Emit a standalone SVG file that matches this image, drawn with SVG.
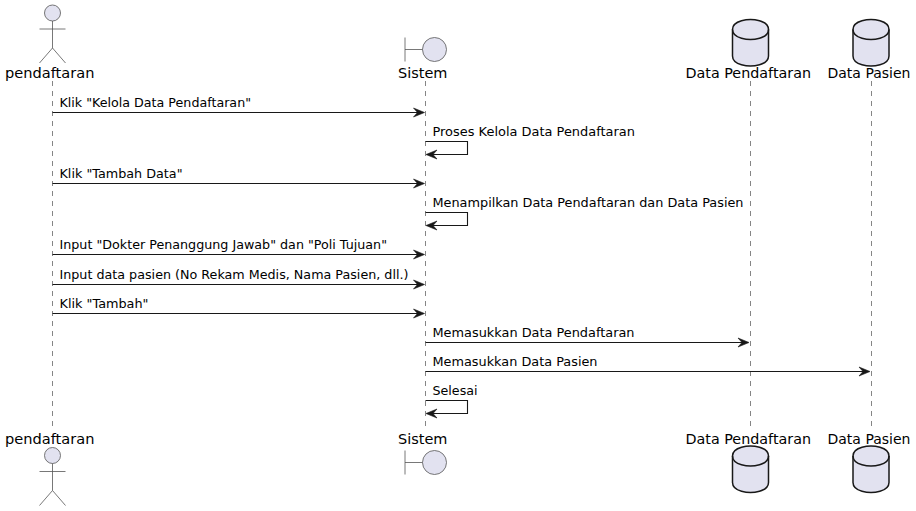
<svg xmlns="http://www.w3.org/2000/svg" width="916" height="511" viewBox="0 0 916 511">
<style>
text{font-family:"DejaVu Sans",sans-serif;fill:#000}
.n{font-size:14.500px}
.m{font-size:13px}
.life{stroke:#666;stroke-width:.8;stroke-dasharray:5,5;fill:none}
.ic{fill:#E2E2F0;stroke:#555;stroke-width:.8}
.icl{fill:none;stroke:#555;stroke-width:.8}
.db{fill:#E2E2F0;stroke:#181818;stroke-width:1.5}
.dbl{fill:none;stroke:#181818;stroke-width:1.5}
.a{stroke:#181818;stroke-width:1.1;fill:none}
.h{fill:#181818;stroke:#181818;stroke-width:.6;stroke-linejoin:miter}
</style>
<defs>
<g id="actor"><circle class="ic" cx="0" cy="0" r="8"/><path class="icl" d="M0,8V35M-13,16H13M0,35L-13,50M0,35L13,50"/></g>
<g id="bound"><circle class="ic" cx="29.500" cy="0" r="12"/><path class="icl" d="M0,-12V12M0,0H17.500"/></g>
<g id="cyl"><path class="db" d="M0,9.500C0,-.500 18,-.500 18,-.500C18,-.500 36,-.500 36,9.500V36C36,46 18,46 18,46C18,46 0,46 0,36Z"/><path class="dbl" d="M0,9.500C0,19.500 18,19.500 18,19.500C18,19.500 36,19.500 36,9.500"/></g>
<path id="ar" class="h" d="M0,0L-11,-4.500L-7,0L-11,4.500Z"/>
<path id="al" class="h" d="M0,0L11,-4.500L7,0L11,4.500Z"/>
</defs>
<g id="lifelines">
<line class="life" x1="52.500" y1="81" x2="52.500" y2="426"/>
<line class="life" x1="425.500" y1="81" x2="425.500" y2="426"/>
<line class="life" x1="750.500" y1="81" x2="750.500" y2="426"/>
<line class="life" x1="871.500" y1="81" x2="871.500" y2="426"/>
</g>
<g id="node-pendaftaran-top"><use href="#actor" x="52.500" y="13"/><text class="n" x="5" y="78" textLength="89.500" lengthAdjust="spacingAndGlyphs">pendaftaran</text></g>
<g id="node-sistem-top"><use href="#bound" x="405" y="49.500"/><text class="n" x="398" y="78" textLength="49.500" lengthAdjust="spacingAndGlyphs">Sistem</text></g>
<g id="node-datapendaftaran-top"><use href="#cyl" x="732.500" y="20"/><text class="n" x="685.500" y="78" textLength="125.500" lengthAdjust="spacingAndGlyphs">Data Pendaftaran</text></g>
<g id="node-datapasien-top"><use href="#cyl" x="853" y="20"/><text class="n" x="827.500" y="78" textLength="83" lengthAdjust="spacingAndGlyphs">Data Pasien</text></g>
<g id="node-pendaftaran-bottom"><use href="#actor" x="52.500" y="455.500"/><text class="n" x="5" y="444" textLength="89.500" lengthAdjust="spacingAndGlyphs">pendaftaran</text></g>
<g id="node-sistem-bottom"><use href="#bound" x="405" y="462.500"/><text class="n" x="398" y="444" textLength="49.500" lengthAdjust="spacingAndGlyphs">Sistem</text></g>
<g id="node-datapendaftaran-bottom"><use href="#cyl" x="732.500" y="446.500"/><text class="n" x="685.500" y="444" textLength="125.500" lengthAdjust="spacingAndGlyphs">Data Pendaftaran</text></g>
<g id="node-datapasien-bottom"><use href="#cyl" x="853" y="446.500"/><text class="n" x="827.500" y="444" textLength="83" lengthAdjust="spacingAndGlyphs">Data Pasien</text></g>
<g id="connectors">
<path class="a" d="M52.500,112.500H419"/><use href="#ar" x="424.500" y="112.500"/>
<path class="a" d="M425.500,141.500H467.500V154.500H432"/><use href="#al" x="426" y="154.500"/>
<path class="a" d="M52.500,183.500H419"/><use href="#ar" x="424.500" y="183.500"/>
<path class="a" d="M425.500,212.500H467.500V225.500H432"/><use href="#al" x="426" y="225.500"/>
<path class="a" d="M52.500,254.500H419"/><use href="#ar" x="424.500" y="254.500"/>
<path class="a" d="M52.500,284.500H419"/><use href="#ar" x="424.500" y="284.500"/>
<path class="a" d="M52.500,313.500H419"/><use href="#ar" x="424.500" y="313.500"/>
<path class="a" d="M425.500,342.500H744"/><use href="#ar" x="749" y="342.500"/>
<path class="a" d="M425.500,371.500H865"/><use href="#ar" x="870" y="371.500"/>
<path class="a" d="M425.500,400.500H467.500V413.500H432"/><use href="#al" x="426" y="413.500"/>
</g>
<g id="labels">
<text class="m" x="59.500" y="107" textLength="191.500" lengthAdjust="spacingAndGlyphs">Klik "Kelola Data Pendaftaran"</text>
<text class="m" x="432.500" y="136" textLength="202.500" lengthAdjust="spacingAndGlyphs">Proses Kelola Data Pendaftaran</text>
<text class="m" x="59.500" y="178" textLength="123" lengthAdjust="spacingAndGlyphs">Klik "Tambah Data"</text>
<text class="m" x="432.500" y="207" textLength="311" lengthAdjust="spacingAndGlyphs">Menampilkan Data Pendaftaran dan Data Pasien</text>
<text class="m" x="59.500" y="249" textLength="327.500" lengthAdjust="spacingAndGlyphs">Input "Dokter Penanggung Jawab" dan "Poli Tujuan"</text>
<text class="m" x="59.500" y="279" textLength="349" lengthAdjust="spacingAndGlyphs">Input data pasien (No Rekam Medis, Nama Pasien, dll.)</text>
<text class="m" x="59.500" y="308" textLength="89" lengthAdjust="spacingAndGlyphs">Klik "Tambah"</text>
<text class="m" x="432.500" y="337" textLength="202" lengthAdjust="spacingAndGlyphs">Memasukkan Data Pendaftaran</text>
<text class="m" x="432.500" y="366" textLength="165" lengthAdjust="spacingAndGlyphs">Memasukkan Data Pasien</text>
<text class="m" x="432.500" y="395" textLength="45" lengthAdjust="spacingAndGlyphs">Selesai</text>
</g>
</svg>
